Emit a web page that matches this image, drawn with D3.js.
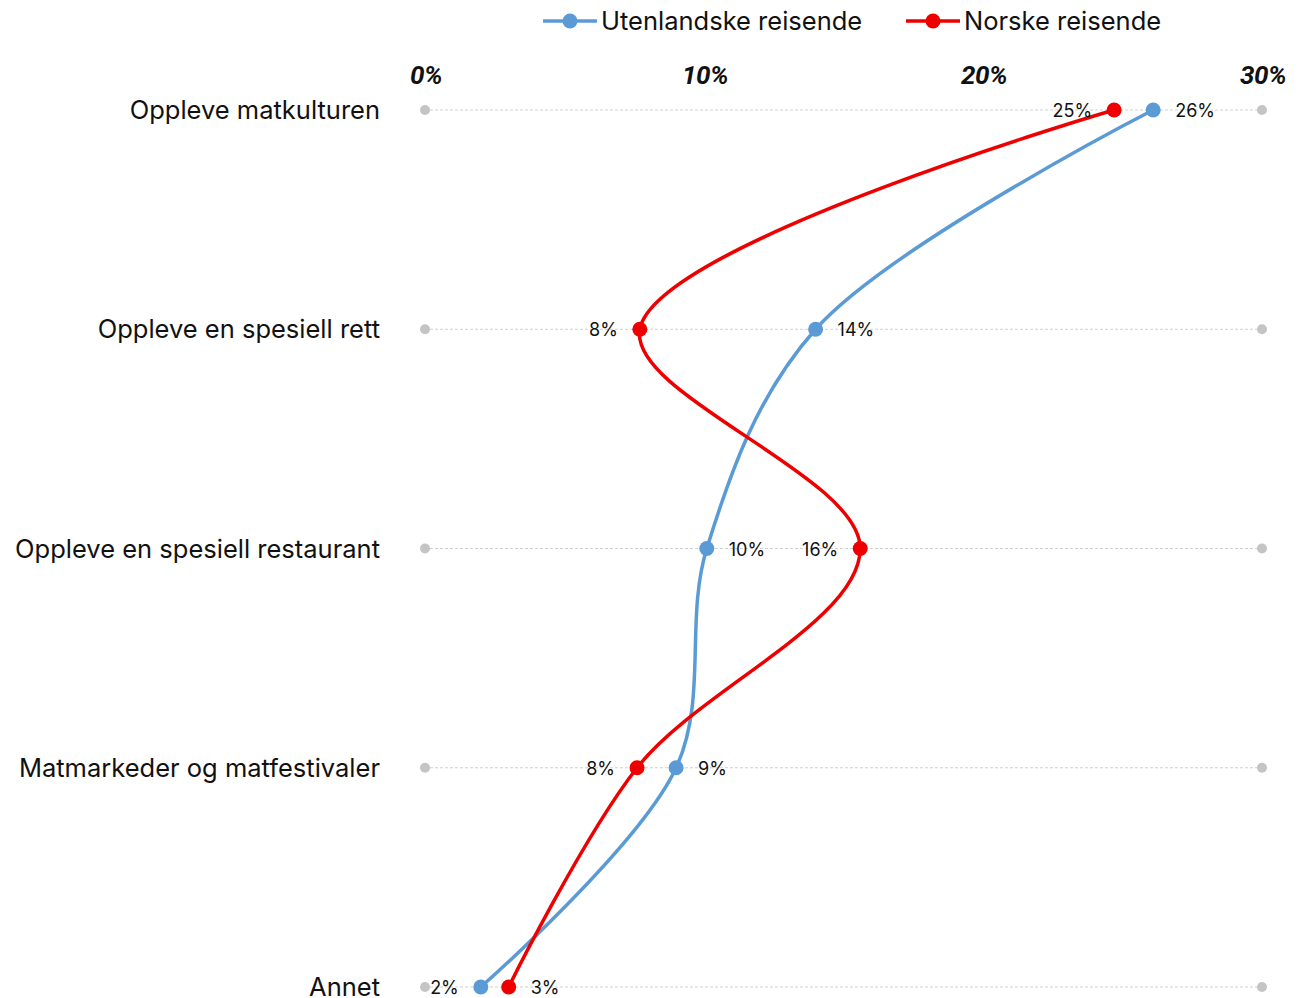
<!DOCTYPE html>
<html>
<head>
<meta charset="utf-8">
<script src="https://cdn.jsdelivr.net/npm/d3@7"></script>
<style>
  body { margin: 0; background: #fff; }
  svg { display: block; }
</style>
</head>
<body>
<div class="box"></div>
<script>
// Data
const categories = [
  "Oppleve matkulturen",
  "Oppleve en spesiell rett",
  "Oppleve en spesiell restaurant",
  "Matmarkeder og matfestivaler",
  "Annet"
];
const seriesNames = ["Utenlandske reisende", "Norske reisende"];
const utenlandske = [26.1, 14.0, 10.1, 9.0, 2.0];
const norske = [24.7, 7.7, 15.6, 7.6, 3.0];
const xTicks = [0, 10, 20, 30];
// which side each value label sits on ("l" or "r"), per row
const utenSide = ["r", "r", "r", "r", "l"];
const norskeSide = ["l", "l", "l", "l", "r"];

const w = 1314;
const h = 998;
const colors = ["#5b9bd5", "#ee0000"];

const svg = d3.select(".box")
  .append("svg")
  .attr("width", w)
  .attr("height", h);

const xScale = d3.scaleLinear()
  .domain([0, 30])
  .range([425, 1262]);

const yScale = d3.scalePoint()
  .domain(categories)
  .range([110, 987]);

// top axis labels
svg.selectAll(".xtick")
  .data(xTicks)
  .enter()
  .append("text")
  .attr("class", "xtick")
  .attr("x", d => xScale(d) + 1)
  .attr("y", 84)
  .attr("text-anchor", "middle")
  .style("font-family", "Roboto, 'Liberation Sans', sans-serif")
  .style("font-weight", "bold")
  .style("font-style", "italic")
  .style("font-size", "26px")
  .style("letter-spacing", "-0.5px")
  .style("fill", "#111")
  .text(d => d + "%");

// grid rows
const rows = svg.append("g");
rows.selectAll("line")
  .data(categories)
  .enter()
  .append("line")
  .attr("x1", xScale(0))
  .attr("x2", xScale(30))
  .attr("y1", d => yScale(d))
  .attr("y2", d => yScale(d))
  .style("stroke", "#d0d0d0")
  .style("stroke-width", 1)
  .style("stroke-dasharray", "3,2");

[0, 30].forEach(function(v) {
  rows.selectAll(".end" + v)
    .data(categories)
    .enter()
    .append("circle")
    .attr("cx", xScale(v))
    .attr("cy", d => yScale(d))
    .attr("r", 5)
    .style("fill", "#c4c4c4");
});

// category labels
svg.selectAll(".cat")
  .data(categories)
  .enter()
  .append("text")
  .attr("class", "cat")
  .attr("x", 380)
  .attr("y", d => yScale(d) + 9)
  .attr("text-anchor", "end")
  .style("font-family", "Inter, 'Noto Sans', sans-serif")
  .style("font-size", "25.5px")
  .style("fill", "#111")
  .text(d => d);

const line = d3.line()
  .x(d => xScale(d.v))
  .y(d => yScale(d.c))
  .curve(d3.curveCatmullRom.alpha(0.5));

const series = [
  { name: seriesNames[0], values: utenlandske, side: utenSide, color: colors[0] },
  { name: seriesNames[1], values: norske, side: norskeSide, color: colors[1] }
];

series.forEach(function(s) {
  const pts = s.values.map((v, i) => ({ v: v, c: categories[i], side: s.side[i] }));
  const g = svg.append("g");

  g.append("path")
    .datum(pts)
    .attr("d", line)
    .style("fill", "none")
    .style("stroke", s.color)
    .style("stroke-width", 3.5);

  g.selectAll("circle")
    .data(pts)
    .enter()
    .append("circle")
    .attr("cx", d => xScale(d.v))
    .attr("cy", d => yScale(d.c))
    .attr("r", 7.5)
    .style("fill", s.color);

  g.selectAll("text")
    .data(pts)
    .enter()
    .append("text")
    .attr("x", d => xScale(d.v) + (d.side == "r" ? 22 : -22))
    .attr("y", d => yScale(d.c) + 7)
    .attr("text-anchor", d => d.side == "r" ? "start" : "end")
    .style("font-family", "Inter, 'Noto Sans', sans-serif")
    .style("font-size", "18px")
    .style("fill", "#111")
    .text(d => Math.round(d.v) + "%");
});

// LEGEND
const legend = svg.append("g").attr("id", "legend");
const legendX = [543, 906];
series.forEach(function(s, i) {
  const x0 = legendX[i];
  legend.append("line")
    .attr("x1", x0).attr("x2", x0 + 54)
    .attr("y1", 21).attr("y2", 21)
    .style("stroke", s.color)
    .style("stroke-width", 3.5);
  legend.append("circle")
    .attr("cx", x0 + 27).attr("cy", 21).attr("r", 7.5)
    .style("fill", s.color);
  legend.append("text")
    .attr("x", x0 + 58).attr("y", 30)
    .style("font-family", "Inter, 'Noto Sans', sans-serif")
    .style("font-size", "25.5px")
    .style("fill", "#111")
    .text(s.name);
});
</script>
</body>
</html>
